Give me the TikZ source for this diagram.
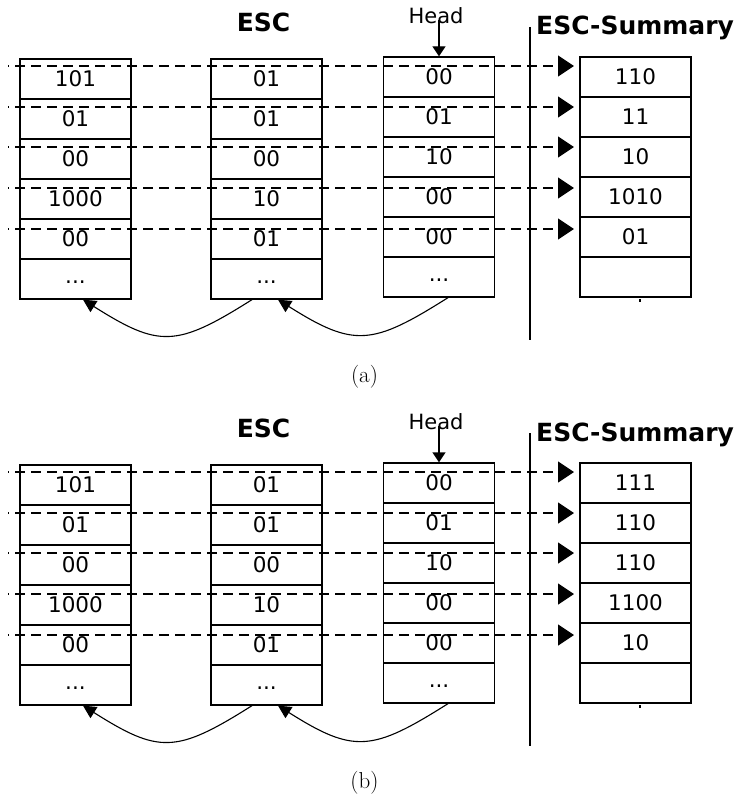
\documentclass[tikz,border=0pt]{standalone}
\usepackage{fontspec}
\newfontfamily\dv{DejaVu Sans}
\usetikzlibrary{arrows.meta}
\tikzset{
  cell/.style={draw, line width=1.3pt, minimum width=111pt, minimum height=40pt,
    inner sep=0pt, font=\dv\fontsize{21.5}{21.5}\selectfont},
  titletext/.style={inner sep=0pt, font=\dv\bfseries\fontsize{25}{25}\selectfont},
  headtext/.style={inner sep=0pt, font=\dv\fontsize{21}{21}\selectfont},
  captext/.style={inner sep=0pt, font=\fontsize{23}{23}\selectfont},
  divider/.style={line width=1.3pt},
  dasharrow/.style={line width=1.3pt, dash pattern=on 10pt off 6pt, dash phase=9pt,
    -{Triangle[length=16pt,width=21pt]}},
  curvearrow/.style={line width=1.1pt, -{Triangle[length=13pt,width=13pt]}},
  headarrow/.style={line width=1.3pt, -{Triangle[length=10pt,width=13pt]}},
}
% #1 name, #2 x, #3 top, #4-#9 six values
\newcommand\escol[9]{%
  \node[cell] (#1-1) at (#2,#3+20) {#4};
  \node[cell] (#1-2) at (#2,#3+60) {#5};
  \node[cell] (#1-3) at (#2,#3+100) {#6};
  \node[cell] (#1-4) at (#2,#3+140) {#7};
  \node[cell] (#1-5) at (#2,#3+180) {#8};
  \node[cell] (#1-6) at (#2,#3+220) {\raisebox{-4pt}[0pt][0pt]{#9}};
}
% #1 prefix, #2-#6 summary values, #7 caption
\newcommand\escpanel[7]{%
  \node[titletext] (#1-esc) at (263.5,22.5) {ESC};
  \node[headtext] (#1-head) at (436,16) {Head};
  \node[titletext, anchor=base west] (#1-sum) at (536,35) {ESC-Summary};
  \escol{#1-c1}{75.5}{59}{101}{01}{00}{1000}{00}{...}
  \escol{#1-c2}{266.5}{59}{01}{01}{00}{10}{01}{...}
  \escol{#1-c3}{439}{57}{00}{01}{10}{00}{00}{...}
  \escol{#1-s}{635.5}{57}{#2}{#3}{#4}{#5}{#6}{}
  \coordinate (#1-dt) at (530,27);
  \coordinate (#1-db) at (530,340);
  \draw[divider] (#1-dt) -- (#1-db);
  \foreach \y [count=\i] in {66,107,147,188,229}{
    \coordinate (#1-l\i) at (8,\y);
    \coordinate (#1-r\i) at (574,\y);
    \draw[dasharrow] (#1-l\i) -- (#1-r\i);
  }
  \draw[headarrow] ([yshift=4pt]#1-head.south -| #1-c3-1.north) -- (#1-c3-1.north);
  \draw[curvearrow] ([xshift=9pt]#1-c3-6.south) .. controls +(-76,48) and +(76,48) .. ([xshift=11.5pt]#1-c2-6.south);
  \draw[curvearrow] ([xshift=-14.5pt]#1-c2-6.south) .. controls +(-76,48) and +(76,48) .. ([xshift=7.5pt]#1-c1-6.south);
  \coordinate (#1-t1) at (640,299);
  \coordinate (#1-t2) at (640,302);
  \draw[line width=1.5pt] (#1-t1) -- (#1-t2);
  \node[captext] (#1-cap) at (364.5,377) {#7};
}
\begin{document}
\begin{tikzpicture}[x=1pt,y=-1pt]
  \useasboundingbox (0,0) rectangle (740,797);
  \escpanel{a}{110}{11}{10}{1010}{01}{(a)}
  \begin{scope}[shift={(0,406)}]
    \escpanel{b}{111}{110}{110}{1100}{10}{(b)}
  \end{scope}
\end{tikzpicture}
\end{document}
